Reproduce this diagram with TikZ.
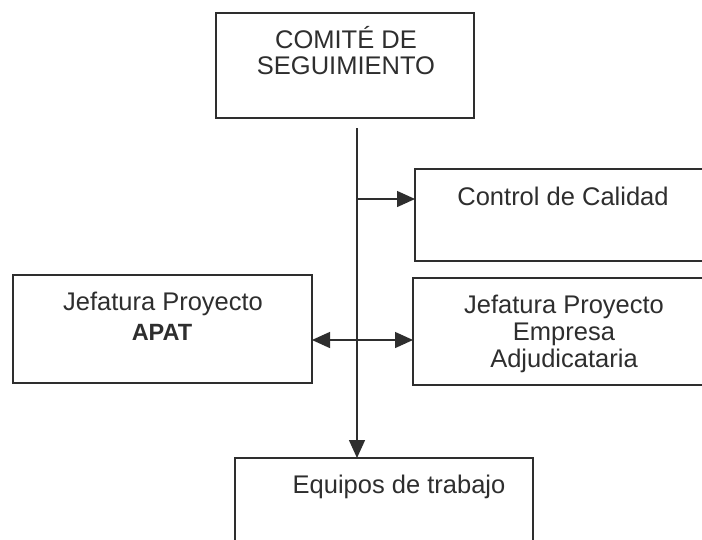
\documentclass[tikz,border=0pt]{standalone}
\usepackage{fontspec}
\setmainfont{Liberation Sans}
\usetikzlibrary{arrows.meta,calc}
\definecolor{ink}{HTML}{2E2E2E}
\tikzset{
  box/.style={draw=ink, line width=1.4pt, rectangle, inner sep=0pt, outer sep=0pt},
  txt/.style={text=ink, inner sep=0pt, anchor=base, font=\fontsize{25.5}{28}\selectfont},
  tip/.tip={Triangle[length=18pt,width=16pt]},
  conn/.style={draw=ink, line width=1.4pt, -tip},
}
\begin{document}
\begin{tikzpicture}[x=1pt,y=-1pt]
\clip (0,0) rectangle (702,539);
\fill[white] (0,0) rectangle (702,539);
% boxes
\node[box, minimum width=258pt, minimum height=105pt] (comite) at (345,65.5) {};
\node[box, minimum width=345pt, minimum height=92pt] (control) at (587.5,215) {};
\node[box, minimum width=299pt, minimum height=108pt] (apat) at (162.5,329) {};
\node[box, minimum width=347pt, minimum height=107pt] (empresa) at (586.5,331.5) {};
\node[box, minimum width=298pt, minimum height=142pt] (equipos) at (384,529) {};
% texts
\node[txt] (t1) at (346,48) {COMITÉ DE};
\node[txt] (t2) at (346,74) {SEGUIMIENTO};
\node[txt] (t3) at (563,205) {Control de Calidad};
\node[txt] (t4) at (163,310) {Jefatura Proyecto};
\node[txt, font=\fontsize{23.5}{28}\selectfont\bfseries] (t5) at (162,340) {APAT};
\node[txt] (t6) at (564,313) {Jefatura Proyecto};
\node[txt] (t7) at (564,340) {Empresa};
\node[txt] (t8) at (564,367) {Adjudicataria};
\node[txt] (t9) at (399,493) {Equipos de trabajo};
% connectors
\coordinate (top) at (357,128);
\coordinate (jc) at (357,199);
\draw[conn] (top) -- (top |- equipos.north);
\draw[conn] (jc) -- (jc -| control.west);
\draw[conn, tip-tip] (apat.east |- 0,340) -- (empresa.west |- 0,340);
\end{tikzpicture}
\end{document}
